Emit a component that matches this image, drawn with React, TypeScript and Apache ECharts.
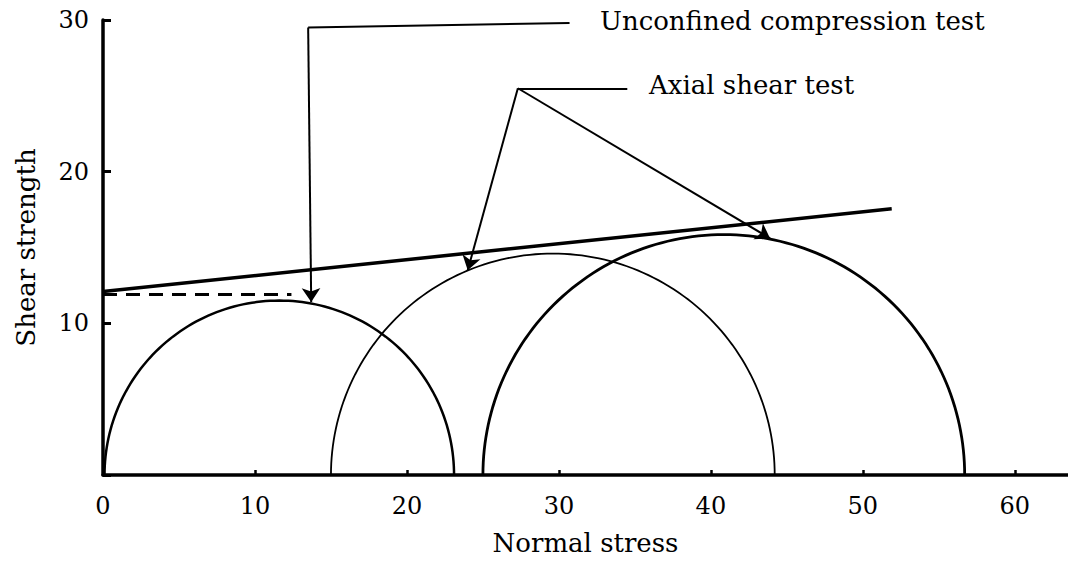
import React, { useEffect, useRef } from "react";
import * as echarts from "echarts";

// Mohr circles: [centre (normal stress), radius]
const circleCentres = [11.6, 29.6, 40.85];
const circleRadii = [11.5, 14.6, 15.85];
const circleWidths = [2.5, 1.8, 2.8];

// failure envelope
const envelopeX = [0, 51.9];
const envelopeY = [12.1, 17.55];

// dashed line
const dashedX = [0, 12.4];
const dashedY = [11.9, 11.9];

// annotation pointers (plain segments, no arrow)
const leaderLines = [
  [[30.7, 29.8], [13.5, 29.5]],
  [[34.5, 25.5], [27.3, 25.5]],
];
// annotation pointers with arrowheads
const arrowLines = [
  [[13.5, 29.5], [13.7, 11.4]],
  [[27.3, 25.5], [24.0, 13.5]],
  [[27.3, 25.5], [43.9, 15.6]],
];

const xTicks = [0, 10, 20, 30, 40, 50, 60];
const yTicks = [10, 20, 30];
const labels = {
  x: "Normal stress",
  y: "Shear strength",
  unconfined: "Unconfined compression test",
  axial: "Axial shear test",
};

const FONT = "DejaVu Serif";

export default function App() {
  const ref = useRef<HTMLDivElement>(null);
  useEffect(() => {
    const chart = echarts.init(ref.current!, null, { renderer: "svg" });
    const circleData = circleCentres.map((c, i) => [c, circleRadii[i], i]);
    const textBase = { fontFamily: FONT, color: "#000" };
    chart.setOption({
      animation: false,
      backgroundColor: "#ffffff",
      grid: { left: 103, right: 0, top: 20, bottom: 87, containLabel: false },
      xAxis: {
        type: "value",
        min: 0,
        max: 63.5,
        interval: 10,
        name: labels.x,
        nameLocation: "middle",
        nameGap: 55,
        nameTextStyle: { ...textBase, fontSize: 26 },
        axisLine: { lineStyle: { color: "#000", width: 3.5 } },
        axisTick: { inside: true, length: 5, lineStyle: { color: "#000", width: 2.5 } },
        axisLabel: {
          ...textBase,
          showMaxLabel: false,
          margin: 19,
          fontSize: 24,
          formatter: (v: number) => (xTicks.includes(v) ? String(v) : ""),
        },
        splitLine: { show: false },
      },
      yAxis: {
        type: "value",
        min: 0,
        max: 30,
        interval: 10,
        name: labels.y,
        nameLocation: "middle",
        nameGap: 64,
        nameTextStyle: { ...textBase, fontSize: 26 },
        axisLine: { lineStyle: { color: "#000", width: 3.5 } },
        axisTick: { inside: true, length: 8, lineStyle: { color: "#000", width: 3 } },
        axisLabel: {
          ...textBase,
          margin: 14,
          fontSize: 24,
          formatter: (v: number) => (yTicks.includes(v) ? String(v) : ""),
        },
        splitLine: { show: false },
      },
      series: [
        {
          type: "custom",
          clip: false,
          data: circleData,
          encode: { x: 0, y: 1 },
          renderItem: (params: any, api: any) => {
            const c = api.value(0);
            const r = api.value(1);
            const idx = api.value(2);
            const pts: number[][] = [];
            const n = 120;
            for (let k = 0; k <= n; k++) {
              const a = Math.PI - (Math.PI * k) / n;
              pts.push(api.coord([c + r * Math.cos(a), r * Math.sin(a)]));
            }
            return {
              type: "polyline",
              shape: { points: pts },
              style: { stroke: "#000", fill: "none", lineWidth: circleWidths[idx] },
            };
          },
        },
        {
          type: "line",
          data: envelopeX.map((x, i) => [x, envelopeY[i]]),
          symbol: "none",
          lineStyle: { color: "#000", width: 3.5 },
        },
        {
          type: "line",
          data: dashedX.map((x, i) => [x, dashedY[i]]),
          symbol: "none",
          lineStyle: { color: "#000", width: 3, type: [14, 9] },
        },
        {
          type: "lines",
          coordinateSystem: "cartesian2d",
          symbol: ["none", "none"],
          data: leaderLines.map((c) => ({ coords: c })),
          lineStyle: { color: "#000", width: 2, opacity: 1 },
        },
        {
          type: "lines",
          coordinateSystem: "cartesian2d",
          symbol: ["none", "arrow"],
          symbolSize: [0, 14],
          data: arrowLines.map((c) => ({ coords: c })),
          lineStyle: { color: "#000", width: 2, opacity: 1 },
          itemStyle: { color: "#000" },
        },
      ],
      graphic: [
        {
          type: "text",
          left: 600,
          top: 8,
          style: { text: labels.unconfined, font: `26px '${FONT}'`, fill: "#000" },
        },
        {
          type: "text",
          left: 649,
          top: 72,
          style: { text: labels.axial, font: `26px '${FONT}'`, fill: "#000" },
        },
      ],
    });
    return () => chart.dispose();
  }, []);
  return (
    <div
      ref={ref}
      style={{ position: "fixed", left: 0, top: 0, width: 1068, height: 562, background: "#fff" }}
    />
  );
}
